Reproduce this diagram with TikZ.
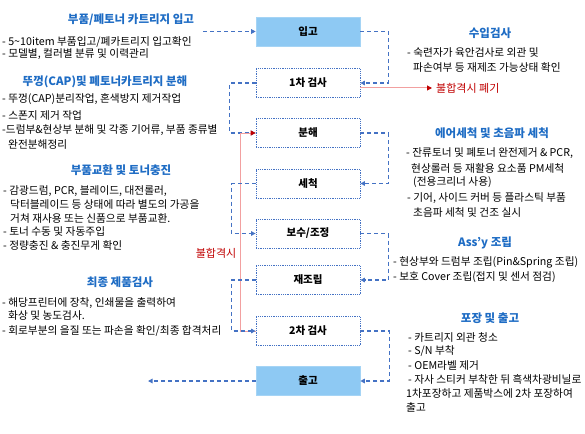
\documentclass[tikz,border=0pt]{standalone}
\usepackage{fontspec}
\setmainfont{Noto Sans CJK KR}
\usetikzlibrary{arrows.meta,calc}
\definecolor{ttlblue}{RGB}{30,108,196}
\definecolor{boxfill}{RGB}{142,201,243}
\definecolor{connblue}{RGB}{68,114,196}
\definecolor{pinkline}{RGB}{242,160,160}
\definecolor{darkred}{RGB}{192,0,0}
\tikzset{
  txt/.style={anchor=west, inner sep=0pt, font=\fontsize{10.7}{12}\selectfont},
  ttl/.style={inner sep=0pt, text=ttlblue, font=\bfseries\fontsize{11.5}{13}\selectfont},
  stepbox/.style={draw=connblue, densely dotted, line width=0.8pt, minimum width=104pt, minimum height=29pt, inner sep=0pt, font=\bfseries\fontsize{10.5}{12}\selectfont},
  filledbox/.style={fill=boxfill, draw=boxfill!80!white, line width=0.6pt, minimum width=104pt, minimum height=29pt, inner sep=0pt, font=\bfseries\fontsize{10.5}{12}\selectfont},
  dconn/.style={draw=connblue, line width=1.1pt, dash pattern=on 4pt off 3pt},
  tipb/.style={-{Triangle[length=4.5pt,width=4.5pt,fill=connblue,color=connblue]}},
  redconn/.style={draw=pinkline, line width=1pt, -{Triangle[length=5pt,width=5pt,fill=darkred,color=darkred]}},
  redtxt/.style={inner sep=0pt, text=darkred, font=\fontsize{11}{12}\selectfont}
}
\begin{document}
\begin{tikzpicture}[x=1pt,y=-1pt]
\useasboundingbox (0,0) rectangle (585,433);

% process boxes
\node[filledbox] (ipgo)   at (308,31.5) {입고};
\node[stepbox]   (cha1)   at (308,83)   {1차 검사};
\node[stepbox]   (bunhae) at (308,133)  {분해};
\node[stepbox]   (sechuk) at (308,183.5){세척};
\node[stepbox]   (bosu)   at (308,233.5){보수/조정};
\node[stepbox]   (jaejo)  at (308,280)  {재조립};
\node[stepbox]   (cha2)   at (308,331)  {2차 검사};
\node[filledbox] (chulgo) at (308,381)  {출고};

% free ends
\coordinate (in1) at (203,31.5);
\coordinate (out1) at (148,381);
\coordinate (fail) at (432,88);

% right-side brackets
\draw[dconn,tipb] (ipgo.east) -- ++(28,0) |- (cha1.east);
\draw[dconn,tipb] (bunhae.east) -- ++(28,0) |- (sechuk.east);
\draw[dconn,tipb] (bosu.east) -- ++(28,0) |- (jaejo.east);
\draw[dconn,tipb] (cha2.east) -- ++(29,0) |- (chulgo.east);

% left-side connectors
\draw[dconn,tipb] (in1) -- (ipgo.west);
\draw[dconn,tipb] (cha1.west) -- ++(-26,0) |- (bunhae.west);
\draw[redconn] (cha2.west) -- ++(-15,0) |- (bunhae.west);
\draw[dconn,tipb] (sechuk.west) -- ++(-24,0) |- (bosu.west);
\draw[dconn,tipb] (jaejo.west) -- ++(-24,0) |- (cha2.west);
\draw[dconn,tipb] (chulgo.west) -- (out1);

% reject arrow
\draw[redconn] ([yshift=-5pt]cha1.east) -- (fail);
\node[redtxt, anchor=west] (failtxt) at (436,88) {불합격시 폐기};
\node[redtxt] (failtxt2) at (216,253) {불합격시};

% left texts
\node[ttl] (t1) at (131,20) {부품/폐토너 카트리지 입고};
\node[txt] (t1a) at (2,42) {- 5\textasciitilde10item 부품입고/폐카트리지 입고확인};
\node[txt] (t1b) at (2,54) {- 모델별, 컬러별 분류 및 이력관리};

\node[ttl] (t2) at (105,82) {뚜껑(CAP)및 폐토너카트리지 분해};
\node[txt] (t2a) at (2,99) {- 뚜껑(CAP)분리작업, 혼색방지 제거작업};
\node[txt] (t2b) at (2,115) {- 스폰지 제거 작업};
\node[txt] (t2c) at (2,130) {-드럼부\&현상부 분해 및 각종 기어류, 부품 종류별};
\node[txt] (t2d) at (8,144) {완전분해정리};

\node[ttl] (t3) at (121,170) {부품교환 및 토너충진};
\node[txt] (t3a) at (3,191) {- 감광드럼, PCR, 블레이드, 대전롤러,};
\node[txt] (t3b) at (10,204) {닥터블레이드 등 상태에 따라 별도의 가공을};
\node[txt] (t3c) at (10,218) {거쳐 재사용 또는 신품으로 부품교환.};
\node[txt] (t3d) at (3,231) {- 토너 수동 및 자동주입};
\node[txt] (t3e) at (3,245) {- 정량충진 \& 충진무게 확인};

\node[ttl] (t4) at (120,282) {최종 제품검사};
\node[txt] (t4a) at (2,303) {- 해당프린터에 장착, 인쇄물을 출력하여};
\node[txt] (t4b) at (8,315) {화상 및 농도검사.};
\node[txt] (t4c) at (2,331) {- 회로부분의 을질 또는 파손을 확인/최종 합격처리};

% right texts
\node[ttl] (r1) at (490,33) {수입검사};
\node[txt] (r1a) at (407,52) {- 숙련자가 육안검사로 외관 및};
\node[txt] (r1b) at (413,67) {파손여부 등 재제조 가능상태 확인};

\node[ttl] (r2) at (492,133) {에어세척 및 초음파 세척};
\node[txt] (r2a) at (406,153) {- 잔류토너 및 폐토너 완전제거 \& PCR,};
\node[txt] (r2b) at (411,168) {현상롤러 등 재활용 요소품 PM세척};
\node[txt] (r2c) at (413,182) {(전용크리너 사용)};
\node[txt] (r2d) at (407,198) {- 기어, 사이드 커버 등 플라스틱 부품};
\node[txt] (r2e) at (413,212) {초음파 세척 및 건조 실시};

\node[ttl] (r3) at (485,243) {Ass'y 조립};
\node[txt] (r3a) at (393,262) {- 현상부와 드럼부 조립(Pin\&Spring 조립)};
\node[txt] (r3b) at (393,277) {- 보호 Cover 조립(접지 및 센서 점검)};

\node[ttl] (r4) at (490,318) {포장 및 출고};
\node[txt] (r4a) at (408,337) {- 카트리지 외관 청소};
\node[txt] (r4b) at (408,351) {- S/N 부착};
\node[txt] (r4c) at (408,365) {- OEM라벨 제거};
\node[txt] (r4d) at (408,379) {- 자사 스티커 부착한 뒤 흑색차광비닐로};
\node[txt] (r4e) at (406,393) {1차포장하고 제품박스에 2차 포장하여};
\node[txt] (r4f) at (406,407) {출고};
\end{tikzpicture}
\end{document}
